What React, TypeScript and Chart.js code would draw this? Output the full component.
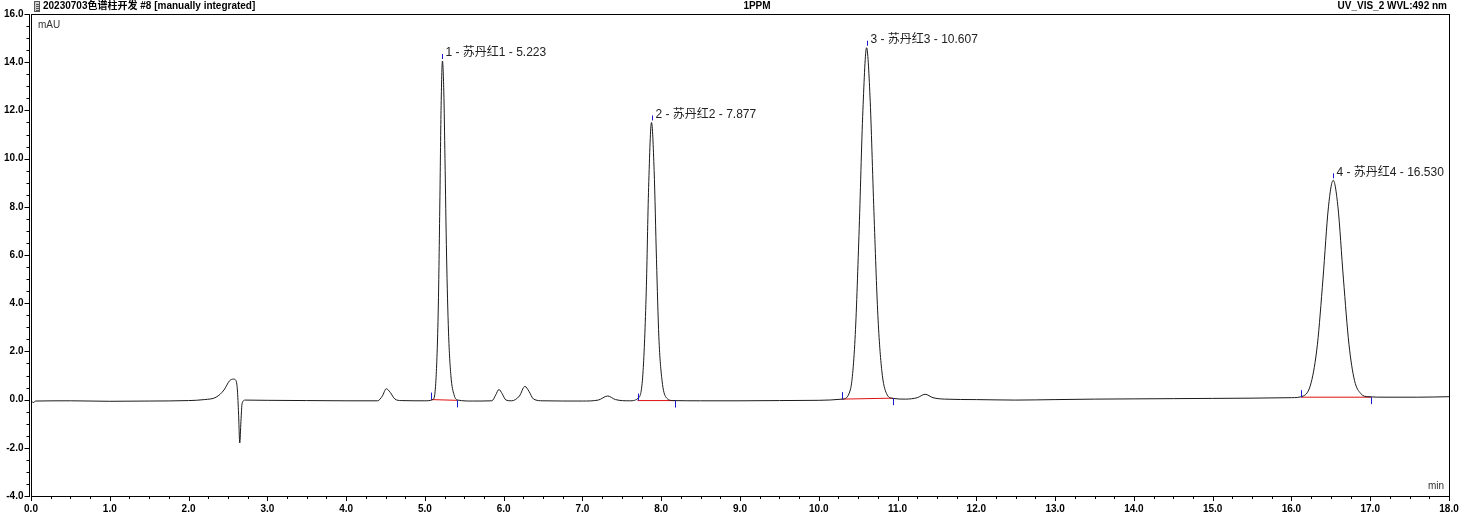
import React, { useEffect, useRef } from "react";
import { Chart, registerables } from "chart.js";

Chart.register(...registerables);

// Chromatogram trace (retention time in min, signal in mAU)
const retentionTimes = [
  0.0, 0.03, 0.06, 0.5, 1.0, 1.5, 2.0, 2.2, 2.35, 2.45, 2.52, 2.57, 2.6, 2.62, 2.635, 2.65, 2.665, 2.68, 2.72,
  3.0, 3.5, 4.0, 4.4, 4.46, 4.51, 4.56, 4.62, 4.7, 5.0,
  5.1, 5.14, 5.17, 5.19, 5.205, 5.223, 5.24, 5.255, 5.275, 5.3, 5.33, 5.37, 5.42, 5.6,
  5.85, 5.9, 5.94, 5.98, 6.03, 6.1, 6.2, 6.27, 6.32, 6.38, 6.5, 7.0, 7.2, 7.32, 7.42, 7.6,
  7.72, 7.77, 7.81, 7.84, 7.877, 7.91, 7.94, 7.97, 8.01, 8.06, 8.15, 8.5, 9.0, 9.5, 10.0, 10.3,
  10.4, 10.46, 10.51, 10.56, 10.607, 10.65, 10.7, 10.75, 10.8, 10.86, 10.94, 11.1, 11.25, 11.35, 11.45, 11.6,
  12.0, 12.5, 13.0, 13.5, 14.0, 14.5, 15.0, 15.5, 16.0, 16.15,
  16.25, 16.33, 16.4, 16.47, 16.53, 16.59, 16.66, 16.73, 16.8, 16.88, 16.97, 17.2, 17.6, 18.0,
];
const signal = [
  -0.05, -0.12, -0.06, -0.05, -0.07, -0.06, -0.04, 0.0, 0.1, 0.4, 0.78, 0.85, 0.8, 0.4, -0.6, -1.8, -0.9, -0.15, -0.02,
  -0.03, -0.04, -0.05, -0.05, 0.15, 0.45, 0.3, 0.02, -0.04, -0.05,
  0.0, 0.8, 3.8, 8.2, 12.0, 14.05, 12.8, 10.0, 6.0, 2.8, 1.0, 0.2, -0.02, -0.06,
  -0.05, 0.2, 0.42, 0.25, -0.02, -0.05, 0.15, 0.55, 0.35, 0.02, -0.05, -0.06, -0.02, 0.15, 0.0, -0.05,
  0.1, 1.2, 4.5, 8.8, 11.5, 9.5, 5.8, 2.6, 0.8, 0.1, -0.04, -0.05, -0.05, -0.04, -0.03, 0.02,
  0.4, 2.5, 6.8, 12.0, 14.6, 12.6, 7.8, 3.5, 1.2, 0.25, 0.05, 0.02, 0.08, 0.22, 0.08, 0.02,
  0.0, -0.02, 0.0, 0.02, 0.03, 0.04, 0.05, 0.06, 0.08, 0.15,
  0.7, 2.3, 5.0, 8.0, 9.1, 8.0, 5.0, 2.3, 0.8, 0.25, 0.12, 0.1, 0.1, 0.12,
];

// Peak annotations
const peakTimes = [5.223, 7.877, 10.607, 16.53];
const peakHeights = [14.05, 11.5, 14.6, 9.1];
const peakLabels = ["1 - 苏丹红1 - 5.223", "2 - 苏丹红2 - 7.877", "3 - 苏丹红3 - 10.607", "4 - 苏丹红4 - 16.530"];

// Integration windows
const integStart = [5.08, 7.7, 10.29, 16.12];
const integEnd = [5.41, 8.17, 10.94, 17.01];
const integStartLevel = [0.0, -0.04, 0.02, 0.1];
const integEndLevel = [-0.03, -0.04, 0.06, 0.1];

// Axis ticks
const xMajorTicks = [0, 1, 2, 3, 4, 5, 6, 7, 8, 9, 10, 11, 12, 13, 14, 15, 16, 17, 18];
const yMajorTicks = [-4, -2, 0, 2, 4, 6, 8, 10, 12, 14, 16];

const titleLeft = "20230703色谱柱开发 #8 [manually integrated]";
const titleCenter = "1PPM";
const titleRight = "UV_VIS_2 WVL:492 nm";

const FONT = '"Liberation Sans", Arial, "Noto Sans CJK SC", sans-serif';

export default function App() {
  const ref = useRef<HTMLCanvasElement | null>(null);

  useEffect(() => {
    document.body.style.margin = "0";
    const canvas = ref.current;
    if (!canvas) return;

    const trace = retentionTimes.map((t, i) => ({ x: t, y: signal[i] }));
    const baselines = integStart.map((s, i) => ({
      type: "line" as const,
      data: [
        { x: s, y: integStartLevel[i] },
        { x: integEnd[i], y: integEndLevel[i] },
      ],
      borderColor: "#e01010",
      borderWidth: 1,
      pointRadius: 0,
      tension: 0,
    }));

    const overlay = {
      id: "chromOverlay",
      afterDraw(chart: any) {
        const { ctx, chartArea } = chart;
        const { left, right, top, bottom } = chartArea;
        const xs = chart.scales.x;
        const ys = chart.scales.y;
        ctx.save();
        ctx.strokeStyle = "#000";
        ctx.lineWidth = 1;
        // frame
        ctx.strokeRect(Math.round(left) + 0.5, Math.round(top) + 0.5, Math.round(right - left), Math.round(bottom - top));
        // y axis line (outer)
        const axX = Math.round(left) - 1.5;
        ctx.beginPath();
        ctx.moveTo(axX, top);
        ctx.lineTo(axX, bottom + 1);
        ctx.stroke();

        // y ticks
        ctx.fillStyle = "#000";
        ctx.font = "bold 10px " + FONT;
        ctx.textAlign = "right";
        ctx.textBaseline = "middle";
        for (let v = -4; v <= 16.001; v += 0.5) {
          const py = Math.round(ys.getPixelForValue(v)) + 0.5;
          const major = yMajorTicks.some((m) => Math.abs(m - v) < 1e-6);
          ctx.beginPath();
          ctx.moveTo(axX, py);
          ctx.lineTo(axX - (major ? 5 : 3), py);
          ctx.stroke();
        }
        yMajorTicks.forEach((v) => {
          const py = ys.getPixelForValue(v);
          ctx.fillText(v.toFixed(1), axX - 6, py);
        });

        // x ticks
        ctx.textAlign = "center";
        ctx.textBaseline = "top";
        for (let v = 0; v <= 18.001; v += 0.25) {
          const px = Math.round(xs.getPixelForValue(v)) + 0.5;
          const major = xMajorTicks.some((m) => Math.abs(m - v) < 1e-6);
          ctx.beginPath();
          ctx.moveTo(px, bottom);
          ctx.lineTo(px, bottom + (major ? 5 : 3));
          ctx.stroke();
        }
        xMajorTicks.forEach((v) => {
          ctx.fillText(v.toFixed(1), xs.getPixelForValue(v), bottom + 8);
        });

        // units
        ctx.font = "10px " + FONT;
        ctx.fillStyle = "#333";
        ctx.textAlign = "left";
        ctx.textBaseline = "middle";
        ctx.fillText("mAU", left + 7, top + 11);
        ctx.textAlign = "right";
        ctx.fillText("min", right - 5, bottom - 10);

        // titles
        ctx.fillStyle = "#000";
        ctx.font = "bold 10px " + FONT;
        ctx.textBaseline = "middle";
        ctx.textAlign = "left";
        ctx.fillText(titleLeft, left + 12, 6);
        ctx.textAlign = "center";
        ctx.fillText(titleCenter, (left + right) / 2 + 17, 6);
        ctx.textAlign = "right";
        ctx.fillText(titleRight, right - 2, 6);
        // small document icon
        ctx.fillStyle = "#d0d0d0";
        ctx.fillRect(left + 3, 1, 6, 11);
        ctx.strokeStyle = "#555";
        ctx.strokeRect(left + 3.5, 1.5, 5, 10);
        ctx.beginPath();
        for (let k = 0; k < 4; k++) {
          ctx.moveTo(left + 5, 4.5 + k * 2);
          ctx.lineTo(left + 8, 4.5 + k * 2);
        }
        ctx.stroke();

        // integration tick marks
        ctx.strokeStyle = "#1818d0";
        integStart.forEach((s, i) => {
          const sx = Math.round(xs.getPixelForValue(s)) + 0.5;
          const sy = ys.getPixelForValue(integStartLevel[i]);
          ctx.beginPath();
          ctx.moveTo(sx, sy);
          ctx.lineTo(sx, sy - 7);
          ctx.stroke();
          const ex = Math.round(xs.getPixelForValue(integEnd[i])) + 0.5;
          const ey = ys.getPixelForValue(integEndLevel[i]);
          ctx.beginPath();
          ctx.moveTo(ex, ey);
          ctx.lineTo(ex, ey + 7);
          ctx.stroke();
        });

        // peak labels
        ctx.font = "12px " + FONT;
        ctx.textAlign = "left";
        ctx.textBaseline = "middle";
        peakTimes.forEach((t, i) => {
          const px = Math.round(xs.getPixelForValue(t)) + 0.5;
          const py = ys.getPixelForValue(peakHeights[i]);
          ctx.strokeStyle = "#1818d0";
          ctx.beginPath();
          ctx.moveTo(px, py - 2);
          ctx.lineTo(px, py - 7);
          ctx.stroke();
          ctx.fillStyle = "#222";
          ctx.fillText(peakLabels[i], px + 3, py - 8);
        });
        ctx.restore();
      },
    };

    const chart = new Chart(canvas, {
      type: "line",
      data: {
        datasets: [
          {
            data: trace,
            borderColor: "#1a1a1a",
            borderWidth: 1,
            pointRadius: 0,
            cubicInterpolationMode: "monotone",
          } as any,
          ...baselines,
        ],
      },
      options: {
        animation: false,
        responsive: false,
        maintainAspectRatio: false,
        layout: { padding: { left: 31, right: 12, top: 14, bottom: 21 } },
        plugins: { legend: { display: false }, tooltip: { enabled: false } },
        scales: {
          x: { type: "linear", min: 0, max: 18, display: false },
          y: { type: "linear", min: -4, max: 16, display: false },
        },
      },
      plugins: [overlay],
    });
    return () => chart.destroy();
  }, []);

  return (
    <div style={{ width: 1461, height: 517, background: "#fff" }}>
      <canvas ref={ref} width={1461} height={517} style={{ display: "block" }} />
    </div>
  );
}
